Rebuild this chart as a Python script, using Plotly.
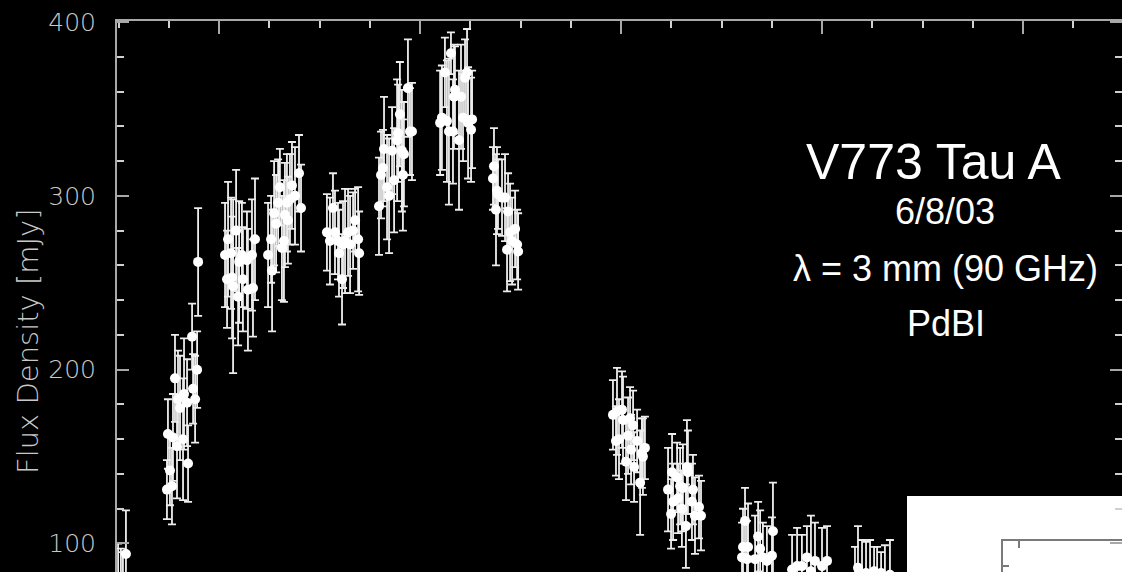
import plotly.graph_objects as go

# V773 Tau A, PdBI 3 mm light curve (6/8/03)
ut_hours = [
    # scan 1
    0.498, 0.512, 0.522, 0.537,
    # scan 2
    0.741, 0.766, 0.756, 0.746, 0.771, 0.791, 0.821, 0.846, 0.781, 0.796,
    0.806, 0.841, 0.871, 0.881, 0.866, 0.891, 0.896, 0.826,
    # scan 3
    1.045, 1.030, 1.085, 1.060, 1.114, 1.139, 1.179, 1.164, 1.040, 1.065,
    1.070, 1.119, 1.095, 1.144, 1.169, 1.100,
    # scan 4
    1.259, 1.244, 1.264, 1.274, 1.294, 1.284, 1.303, 1.328, 1.323, 1.313,
    1.343, 1.338, 1.363, 1.378, 1.398, 1.408, 1.353,
    # scan 5
    1.567, 1.537, 1.552, 1.577, 1.592, 1.597, 1.612, 1.627, 1.642, 1.652,
    1.667, 1.677, 1.692, 1.697, 1.617,
    # scan 6
    1.796, 1.806, 1.816, 1.821, 1.836, 1.846, 1.861, 1.871, 1.886, 1.891,
    1.900, 1.910, 1.915, 1.920, 1.940, 1.950, 1.960,
    # scan 7
    2.124, 2.154, 2.109, 2.100, 2.134, 2.144, 2.164, 2.174, 2.169, 2.194,
    2.204, 2.214, 2.234, 2.224, 2.239, 2.259, 2.254,
    # scan 8
    2.368, 2.363, 2.383, 2.388, 2.408, 2.423, 2.378, 2.438, 2.448, 2.473,
    2.458, 2.483, 2.433, 2.488,
    # scan 9
    2.960, 2.980, 3.005, 3.010, 3.045, 3.060, 2.975, 2.990, 3.035, 3.050,
    3.080, 3.025, 3.065, 3.104, 3.119, 3.109, 3.095,
    # scan 10
    3.254, 3.234, 3.259, 3.249, 3.279, 3.294, 3.308, 3.284, 3.328, 3.333,
    3.303, 3.323, 3.353, 3.358, 3.368, 3.388, 3.398,
    # scan 11
    3.617, 3.607, 3.632, 3.602, 3.627, 3.682, 3.692, 3.667, 3.706, 3.756,
    3.751, 3.726,
    # scan 12
    3.876, 3.925, 3.965, 4.025, 3.900, 4.000, 3.945, 3.851,
    # scan 13
    4.179, 4.199, 4.219, 4.239, 4.259, 4.274, 4.294, 4.313, 4.338, 4.164,
]

flux_mjy = [
    74, 72, 70, 94,
    131, 133, 142, 163, 161, 156, 160, 146, 195, 183,
    178, 181, 189, 183, 219, 200, 262, 186,
    275, 266, 280, 267, 266, 263, 275, 266, 252, 253,
    248, 252, 242, 246, 247, 262,
    275, 266, 257, 290, 296, 284, 305, 289, 274, 270,
    286, 296, 306, 300, 313, 293, 298,
    293, 279, 274, 279, 274, 267, 252, 274, 279, 272,
    280, 286, 275, 267, 272,
    294, 312, 316, 327, 305, 300, 326, 309, 332, 336,
    347, 326, 312, 324, 362, 337, 337,
    371, 382, 345, 342, 343, 337, 337, 361, 357, 332,
    357, 345, 371, 368, 342, 344, 338,
    317, 310, 303, 301, 299, 299, 292, 291, 279, 281,
    274, 272, 269, 268,
    174, 176, 177, 171, 172, 168, 159, 160, 162, 154,
    159, 147, 144, 152, 155, 150, 135,
    141, 131, 124, 117, 138, 133, 132, 126, 144, 141,
    120, 110, 124, 131, 116, 121, 116,
    113, 98, 98, 92, 91, 104, 97, 91, 92, 107,
    93, 90,
    87, 92, 90, 90, 87, 87, 84, 85,
    86, 82, 83, 80, 84, 81, 83, 79, 82, 80,
]

flux_err = [
    26, 25, 25, 25,
    17, 22, 20, 20, 25, 30, 35, 22, 25, 28,
    30, 25, 20, 25, 19, 22, 31, 32,
    33, 30, 35, 32, 30, 28, 35, 32, 28, 35,
    50, 30, 28, 35, 28, 35,
    25, 30, 35, 30, 25, 28, 22, 30, 35, 30,
    25, 28, 25, 28, 22, 25, 26,
    20, 22, 25, 24, 22, 25, 26, 30, 25, 28,
    22, 18, 30, 24, 25,
    28, 25, 22, 30, 30, 33, 25, 30, 35, 28,
    30, 35, 32, 30, 28, 25, 28,
    20, 12, 30, 30, 35, 42, 30, 25, 30, 40,
    30, 25, 25, 22, 32, 28, 30,
    22, 18, 25, 20, 22, 25, 32, 22, 28, 22,
    25, 20, 24, 22,
    20, 25, 22, 25, 18, 20, 20, 23, 22, 20,
    18, 22, 20, 20, 18, 22, 30,
    22, 24, 22, 20, 20, 22, 25, 20, 27, 24,
    22, 24, 22, 20, 22, 18, 20,
    19, 22, 25, 20, 22, 20, 22, 25, 20, 28,
    22, 20,
    22, 18, 22, 20, 18, 22, 32, 20,
    24, 20, 18, 22, 14, 17, 12, 20, 20, 18,
]

y_ticks = [100, 200, 300, 400]
info_lines = ["V773 Tau A", "6/8/03", "\u03bb = 3 mm (90 GHz)", "PdBI"]

W, H = 1122, 572
ML, MT = 117, 21
PW, PH = W - ML, H - MT
Y_RANGE = [83.6, 400.6]


def px_x(px):
    return (px - ML) / PW


def px_y(py):
    return 1 - (py - MT) / PH


AXIS_GREY = "#a8a8a8"
TICK_GREY = "#d0d0d0"
LABEL_GREY = "#c8c8c8"

fig = go.Figure()

fig.add_trace(go.Scatter(
    x=ut_hours,
    y=flux_mjy,
    mode="markers",
    marker=dict(size=10, color="white", line=dict(width=0)),
    error_y=dict(type="data", array=flux_err, visible=True,
                 color="#ededed", thickness=1.8, width=4),
    showlegend=False,
    hoverinfo="x+y",
))

# empty traces so the inset axes and the right-hand tick axis get drawn
fig.add_trace(go.Scatter(x=[], y=[], xaxis="x2", yaxis="y2", showlegend=False))
fig.add_trace(go.Scatter(x=[], y=[], xaxis="x", yaxis="y3", showlegend=False))

fig.update_layout(
    width=W, height=H,
    margin=dict(l=ML, r=0, t=MT, b=0, pad=0, autoexpand=False),
    paper_bgcolor="black",
    plot_bgcolor="rgba(0,0,0,0)",
    xaxis=dict(
        range=[0.4925, 5.4925],
        side="top", automargin=False,
        showgrid=False, zeroline=False,
        showline=True, linecolor=AXIS_GREY, linewidth=2,
        ticks="inside", ticklen=13, tickwidth=2, tickcolor=AXIS_GREY,
        dtick=1, tick0=0,
        minor=dict(ticks="inside", ticklen=7, tickwidth=2,
                   tickcolor=TICK_GREY, dtick=0.25, showgrid=False),
        showticklabels=False,
    ),
    yaxis=dict(
        range=Y_RANGE, automargin=False,
        showgrid=False, zeroline=False,
        showline=True, linecolor=AXIS_GREY, linewidth=2,
        ticks="inside", ticklen=12, tickwidth=2, tickcolor=AXIS_GREY,
        tickvals=y_ticks,
        ticktext=[str(v) for v in y_ticks],
        tickfont=dict(family="DejaVu Sans", size=25, color=LABEL_GREY, weight=200),
        ticklabelstandoff=14,
        minor=dict(ticks="inside", ticklen=7, tickwidth=2,
                   tickcolor=TICK_GREY, dtick=20, showgrid=False),
    ),
    # right-hand ticks only (frame edge lies at the window border)
    yaxis3=dict(
        range=Y_RANGE, overlaying="y", side="right", anchor="x",
        automargin=False, showgrid=False, zeroline=False, showline=False,
        ticks="inside", ticklen=12, tickwidth=2, tickcolor=AXIS_GREY,
        tickvals=y_ticks, showticklabels=False,
        minor=dict(ticks="inside", ticklen=7, tickwidth=2,
                   tickcolor=TICK_GREY, dtick=20, showgrid=False),
    ),
    xaxis2=dict(
        domain=[px_x(1003), 1.0], anchor="y2", range=[0, 100],
        side="top", showgrid=False, zeroline=False, automargin=False,
        showline=True, linecolor="#7a7a7a", linewidth=2,
        ticks="inside", ticklen=7, tickwidth=2, tickcolor="#7a7a7a",
        tickvals=[13.4], showticklabels=False,
    ),
    yaxis2=dict(
        domain=[0, px_y(541)], anchor="x2", range=[38, 48.3],
        showgrid=False, zeroline=False, automargin=False,
        showline=True, linecolor="#7a7a7a", linewidth=2,
        ticks="inside", ticklen=6, tickwidth=2, tickcolor="#7a7a7a",
        tickvals=[40], ticktext=["40"],
        tickfont=dict(family="DejaVu Sans", size=13, color="#333333", weight=700),
        ticklabelstandoff=4,
    ),
    shapes=[
        # white panel in the lower right corner
        dict(type="rect", xref="paper", yref="paper", layer="below",
             x0=px_x(907), x1=1.01, y0=-0.02, y1=px_y(496),
             fillcolor="white", line=dict(width=0)),
    ],
)

# rotated y-axis title
fig.add_annotation(
    text="Flux Density [mJy]", textangle=-90,
    xref="paper", yref="paper", x=px_x(28), y=px_y(341),
    xanchor="center", yanchor="middle", showarrow=False,
    font=dict(family="DejaVu Sans", size=29, color=LABEL_GREY, weight=200),
)

# observation info block
info_y = [162, 212, 268, 323]
info_size = [50, 36, 36, 36]
info_x = [934, 945, 945, 946]
for txt, yy, sz, xx in zip(info_lines, info_y, info_size, info_x):
    fig.add_annotation(
        text=txt, xref="paper", yref="paper", x=px_x(xx), y=px_y(yy),
        xanchor="center", yanchor="middle", showarrow=False,
        font=dict(family="Liberation Sans", size=sz, color="white"),
    )

fig.write_html(
    "out.html",
    config=dict(displayModeBar=False),
    post_script=(
        "var r=document.documentElement,b=document.body;"
        "r.style.overflow='hidden';b.style.overflow='hidden';"
        "b.style.margin='0';r.style.background='black';b.style.background='black';"
    ),
)
